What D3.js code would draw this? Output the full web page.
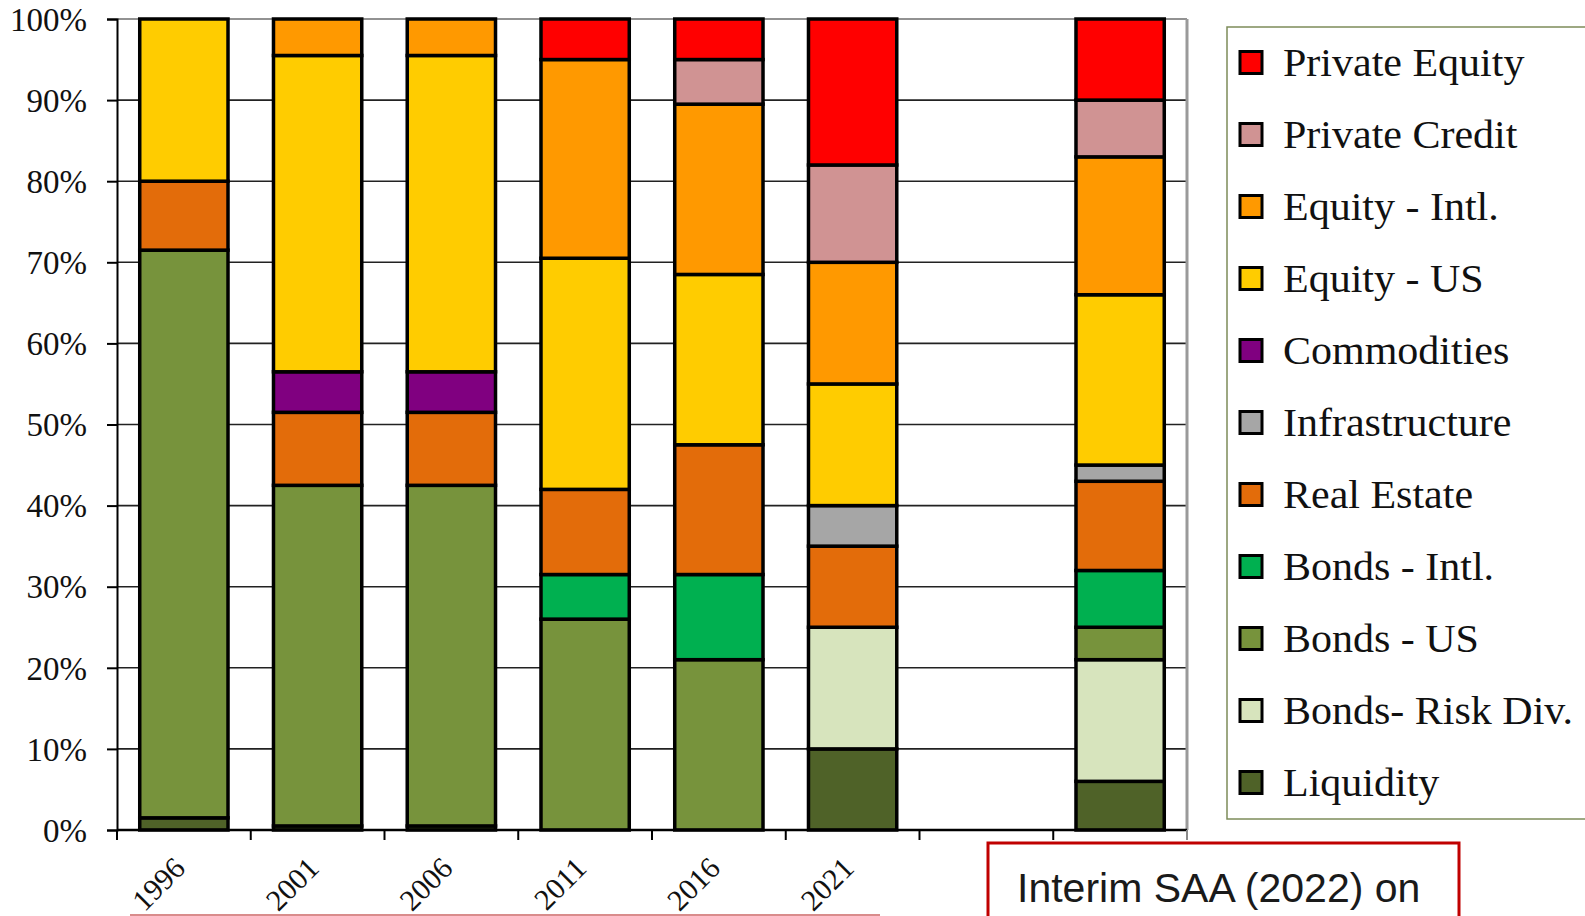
<!DOCTYPE html>
<html>
<head>
<meta charset="utf-8">
<script src="https://cdn.jsdelivr.net/npm/d3@7"></script>
<style>
  html, body { margin: 0; padding: 0; background: #ffffff; }
  svg { display: block; }
</style>
</head>
<body>
<svg id="chart" width="1585" height="916"></svg>
<script>
// Asset allocation by year, percent of portfolio
const categories = ["1996", "2001", "2006", "2011", "2016", "2021", "gap", "interim"];
const xTickLabels = ["1996", "2001", "2006", "2011", "2016", "2021", "", ""];
const yTickValues = [0, 10, 20, 30, 40, 50, 60, 70, 80, 90, 100];

// Series listed bottom of the stack first
const seriesNames = [
  "Liquidity", "Bonds- Risk Div.", "Bonds - US", "Bonds - Intl.", "Real Estate",
  "Infrastructure", "Commodities", "Equity - US", "Equity - Intl.", "Private Credit", "Private Equity"
];
const liquidity      = [1.5, 0.5, 0.5, 0,    0,    10, 0, 6];
const bondsRiskDiv   = [0,   0,   0,   0,    0,    15, 0, 15];
const bondsUS        = [70,  42,  42,  26,   21,   0,  0, 4];
const bondsIntl      = [0,   0,   0,   5.5,  10.5, 0,  0, 7];
const realEstate     = [8.5, 9,   9,   10.5, 16,   10, 0, 11];
const infrastructure = [0,   0,   0,   0,    0,    5,  0, 2];
const commodities    = [0,   5,   5,   0,    0,    0,  0, 0];
const equityUS       = [20,  39,  39,  28.5, 21,   15, 0, 21];
const equityIntl     = [0,   4.5, 4.5, 24.5, 21,   15, 0, 17];
const privateCredit  = [0,   0,   0,   0,    5.5,  12, 0, 7];
const privateEquity  = [0,   0,   0,   5,    5,    18, 0, 10];

const seriesValues = [liquidity, bondsRiskDiv, bondsUS, bondsIntl, realEstate,
  infrastructure, commodities, equityUS, equityIntl, privateCredit, privateEquity];

const seriesColors = ["#4f6228", "#d7e4bd", "#77933c", "#00b050", "#e36c0a",
  "#a6a6a6", "#800080", "#ffcc00", "#ff9900", "#d09393", "#ff0000"];

const boxCaption = "Interim SAA (2022) on";

// ---- layout ----
const svg = d3.select("#chart");
const plot = { left: 117, right: 1187, top: 19, bottom: 830 };
const serif = "'Liberation Serif', 'Times New Roman', serif";

const x = d3.scaleBand()
  .domain(categories)
  .range([plot.left, plot.right])
  .paddingInner(0.34)
  .paddingOuter(0.17);

const y = d3.scaleLinear()
  .domain([0, 100])
  .range([plot.bottom, plot.top]);

// table for d3.stack
const table = categories.map((c, i) => {
  const row = { category: c };
  seriesNames.forEach((s, k) => { row[s] = seriesValues[k][i]; });
  return row;
});
const stacked = d3.stack().keys(seriesNames)(table);
const color = d3.scaleOrdinal().domain(seriesNames).range(seriesColors);

// horizontal gridlines
svg.append("g")
  .selectAll("line")
  .data(yTickValues.filter(v => v > 0))
  .join("line")
  .attr("x1", plot.left).attr("x2", plot.right)
  .attr("y1", d => y(d)).attr("y2", d => y(d))
  .attr("stroke", d => d === 100 ? "#6e6e6e" : "#222")
  .attr("stroke-width", 1.6);

// right border of plot area
svg.append("line")
  .attr("x1", plot.right).attr("x2", plot.right)
  .attr("y1", plot.top).attr("y2", plot.bottom)
  .attr("stroke", "#9a9a9a").attr("stroke-width", 3);

// stacked bars
svg.append("g")
  .selectAll("g")
  .data(stacked)
  .join("g")
  .attr("fill", d => color(d.key))
  .selectAll("rect")
  .data(d => d.filter(p => p[1] - p[0] > 0))
  .join("rect")
  .attr("x", d => x(d.data.category))
  .attr("width", x.bandwidth())
  .attr("y", d => y(d[1]))
  .attr("height", d => y(d[0]) - y(d[1]))
  .attr("stroke", "#000")
  .attr("stroke-width", 3.5);

// y axis
const yAxis = svg.append("g")
  .attr("transform", `translate(${plot.left},0)`)
  .call(d3.axisLeft(y).tickValues(yTickValues).tickFormat(d => d + "%").tickSize(10).tickPadding(20));
yAxis.select(".domain").attr("stroke", "#000").attr("stroke-width", 2);
yAxis.selectAll(".tick line").attr("stroke", "#000").attr("stroke-width", 2);
yAxis.selectAll(".tick text")
  .attr("font-family", serif)
  .attr("font-size", 33)
  .attr("fill", "#111")
  .attr("dy", "0.34em");

// x axis: ticks on category boundaries
const boundaries = d3.range(categories.length + 1).map(i => plot.left + i * x.step());
const xAxisG = svg.append("g");
xAxisG.append("line")
  .attr("x1", plot.left).attr("x2", plot.right)
  .attr("y1", plot.bottom).attr("y2", plot.bottom)
  .attr("stroke", "#000").attr("stroke-width", 2.5);
xAxisG.selectAll("line.tick")
  .data(boundaries)
  .join("line")
  .attr("class", "tick")
  .attr("x1", d => d).attr("x2", d => d)
  .attr("y1", plot.bottom).attr("y2", plot.bottom + 10)
  .attr("stroke", d => d === boundaries[boundaries.length - 1] ? "#8a8a8a" : "#000")
  .attr("stroke-width", 2);

xAxisG.selectAll("text")
  .data(categories.map((c, i) => ({ c, label: xTickLabels[i] })).filter(d => d.label))
  .join("text")
  .attr("transform", d => `translate(${x(d.c) + x.bandwidth() / 2 + 3},${plot.bottom + 40}) rotate(-45)`)
  .attr("text-anchor", "end")
  .attr("font-family", serif)
  .attr("font-size", 30)
  .attr("fill", "#111")
  .text(d => d.label);

// legend, top of stack listed first
const legendItems = seriesNames.slice().reverse();
const legend = svg.append("g");
legend.append("rect")
  .attr("x", 1227).attr("y", 27)
  .attr("width", 400).attr("height", 792)
  .attr("fill", "#fff")
  .attr("stroke", "#7d8c5a").attr("stroke-width", 1.5);
const li = legend.selectAll("g.item")
  .data(legendItems)
  .join("g")
  .attr("class", "item")
  .attr("transform", (d, i) => `translate(1240,${62.5 + i * 72})`);
li.append("rect")
  .attr("x", 0).attr("y", -11)
  .attr("width", 22).attr("height", 22)
  .attr("fill", d => color(d))
  .attr("stroke", "#000").attr("stroke-width", 3);
li.append("text")
  .attr("transform", "translate(43,13) scale(1.05,1)")
  .attr("font-family", serif)
  .attr("font-size", 40)
  .attr("fill", "#111")
  .text(d => d);

// red caption box below the interim bar
svg.append("rect")
  .attr("x", 988).attr("y", 843)
  .attr("width", 471).attr("height", 120)
  .attr("fill", "#fff")
  .attr("stroke", "#c00000").attr("stroke-width", 3);
svg.append("text")
  .attr("x", 1017).attr("y", 902)
  .attr("font-family", "'Liberation Sans', Arial, sans-serif")
  .attr("font-size", 41)
  .attr("fill", "#1a1a1a")
  .text(boxCaption);

// faint edge of a shape below the year labels
svg.append("line")
  .attr("x1", 130).attr("x2", 880)
  .attr("y1", 915).attr("y2", 915)
  .attr("stroke", "#d98c8c").attr("stroke-width", 2);
</script>
</body>
</html>
